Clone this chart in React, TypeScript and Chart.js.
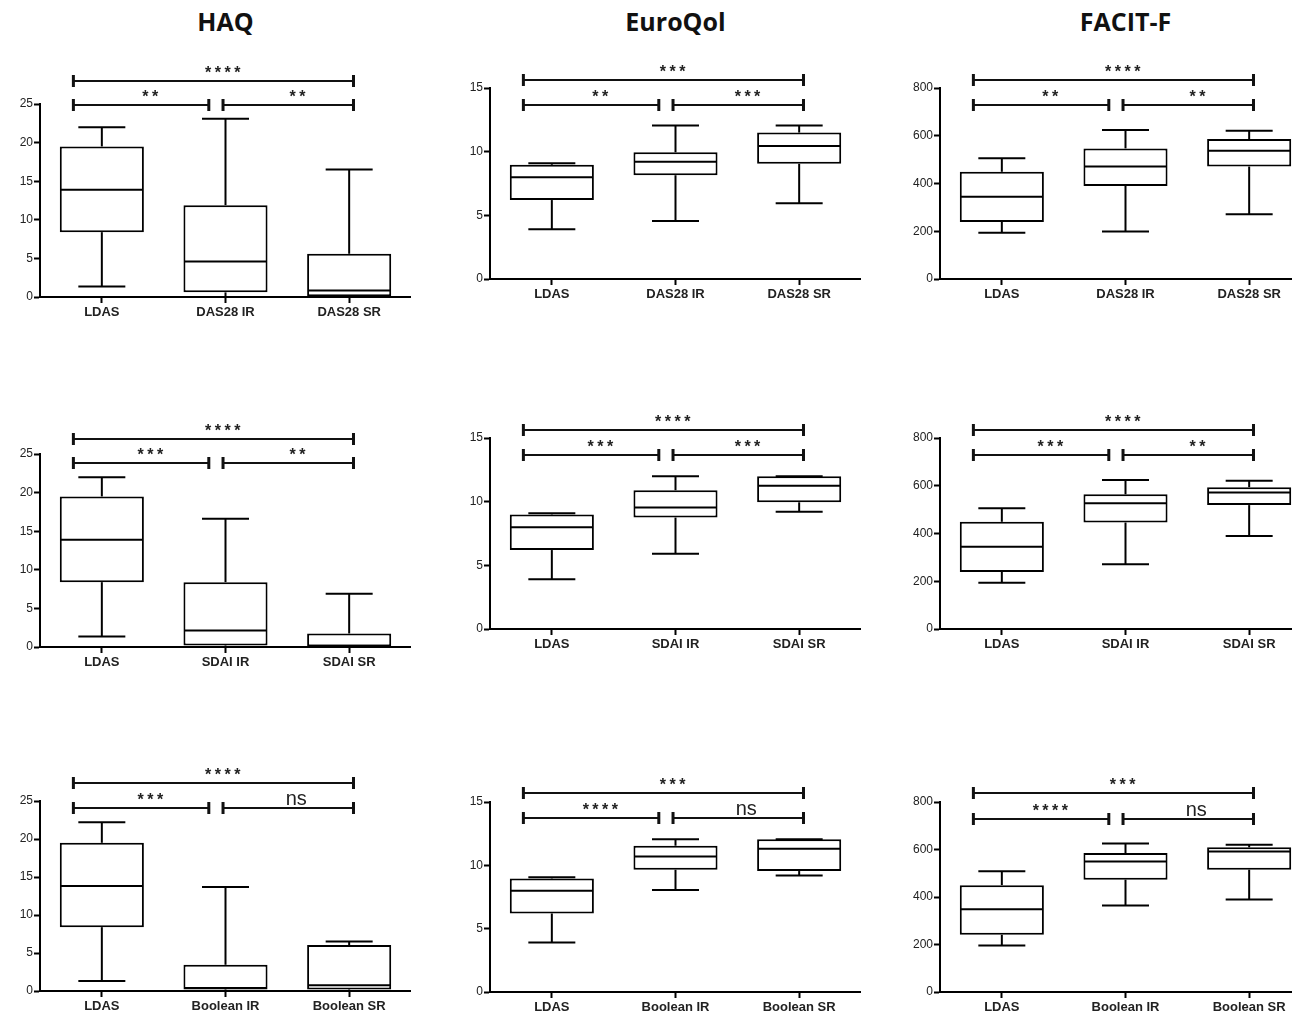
import React, { useEffect, useRef } from 'react';
import { Chart, registerables } from 'chart.js';

Chart.register(...registerables);

// ---------- data ----------
const titles = ['HAQ', 'EuroQol', 'FACIT-F'];

const das28Categories = ['LDAS', 'DAS28 IR', 'DAS28 SR'];
const sdaiCategories = ['LDAS', 'SDAI IR', 'SDAI SR'];
const booleanCategories = ['LDAS', 'Boolean IR', 'Boolean SR'];

// five-number summaries: [min, q1, median, q3, max]
const haqDas28 = [[1.35, 8.4, 13.9, 19.5, 22.0], [0, 0.6, 4.6, 11.9, 23.1], [0, 0.1, 0.85, 5.6, 16.5]];
const haqSdai = [[1.35, 8.4, 13.9, 19.5, 22.0], [0, 0.2, 2.15, 8.4, 16.6], [0, 0.05, 0.15, 1.75, 6.9]];
const haqBoolean = [[1.3, 8.4, 13.8, 19.5, 22.2], [0, 0.2, 0.4, 3.45, 13.7], [0, 0.2, 0.75, 6.05, 6.5]];

const eqDas28 = [[3.9, 6.2, 8.0, 8.97, 9.1], [4.55, 8.15, 9.2, 9.95, 12.05], [5.95, 9.05, 10.45, 11.5, 12.05]];
const eqSdai = [[3.9, 6.2, 8.0, 9.0, 9.1], [5.9, 8.75, 9.55, 10.9, 12.0], [9.2, 9.95, 11.25, 12.0, 12.0]];
const eqBoolean = [[3.9, 6.2, 8.0, 8.97, 9.05], [8.05, 9.65, 10.7, 11.55, 12.05], [9.2, 9.55, 11.3, 12.05, 12.05]];

const facitDas28 = [[194, 239, 345, 449, 506], [199, 390, 471, 547, 624], [271, 471, 537, 586, 621]];
const facitSdai = [[194, 239, 345, 449, 506], [271, 446, 527, 564, 624], [390, 519, 572, 594, 621]];
const facitBoolean = [[196, 241, 348, 450, 508], [364, 473, 550, 585, 625], [390, 515, 592, 609, 620]];

// significance labels: [LDAS vs IR, IR vs SR, LDAS vs SR]
const sigHaqDas28 = ['**', '**', '****'];
const sigEqDas28 = ['**', '***', '***'];
const sigFacitDas28 = ['**', '**', '****'];
const sigHaqSdai = ['***', '**', '****'];
const sigEqSdai = ['***', '***', '****'];
const sigFacitSdai = ['***', '**', '****'];
const sigHaqBoolean = ['***', 'ns', '****'];
const sigEqBoolean = ['****', 'ns', '***'];
const sigFacitBoolean = ['****', 'ns', '***'];

// bracket heights in data units: [pairwise level, overall level]
const bracketHaqDas28 = [24.87, 28.0];
const bracketHaqSdai = [23.8, 26.9];
const bracketHaqBoolean = [24.1, 27.4];
const bracketEq = [13.7, 15.6];
const bracketEqBoolean = [13.7, 15.7];
const bracketFacit = [730, 835];
const bracketFacitBoolean = [730, 838];

// y axes: [max, step]
const haqAxis = [25, 5];
const eqAxis = [15, 5];
const facitAxis = [800, 200];

// ---------- layout ----------
const AXIS_X = [40, 490, 940];
const PLOT_W = 371;
const Y_AXIS_W = 40;
const PAD_TOP = 60;
const X_AXIS_H = 30;
// [y of zero, y of top tick] per row, per column
const ROW_GEOM = [
  [[296.7, 104], [279, 88.3], [279, 88.3]],
  [[646.7, 454], [629.2, 438.3], [629, 438.3]],
  [[990.7, 800.7], [991.7, 801.7], [991.7, 801.7]],
];

type PanelDef = {
  cats: string[];
  stats: number[][];
  axis: number[];
  levels: number[];
  sig: string[];
};

const panels: PanelDef[][] = [
  [
    { cats: das28Categories, stats: haqDas28, axis: haqAxis, levels: bracketHaqDas28, sig: sigHaqDas28 },
    { cats: das28Categories, stats: eqDas28, axis: eqAxis, levels: bracketEq, sig: sigEqDas28 },
    { cats: das28Categories, stats: facitDas28, axis: facitAxis, levels: bracketFacit, sig: sigFacitDas28 },
  ],
  [
    { cats: sdaiCategories, stats: haqSdai, axis: haqAxis, levels: bracketHaqSdai, sig: sigHaqSdai },
    { cats: sdaiCategories, stats: eqSdai, axis: eqAxis, levels: bracketEq, sig: sigEqSdai },
    { cats: sdaiCategories, stats: facitSdai, axis: facitAxis, levels: bracketFacit, sig: sigFacitSdai },
  ],
  [
    { cats: booleanCategories, stats: haqBoolean, axis: haqAxis, levels: bracketHaqBoolean, sig: sigHaqBoolean },
    { cats: booleanCategories, stats: eqBoolean, axis: eqAxis, levels: bracketEqBoolean, sig: sigEqBoolean },
    { cats: booleanCategories, stats: facitBoolean, axis: facitAxis, levels: bracketFacitBoolean, sig: sigFacitBoolean },
  ],
];

function Panel({ def, left, top, width, height }: { def: PanelDef; left: number; top: number; width: number; height: number }) {
  const ref = useRef<HTMLCanvasElement>(null);
  useEffect(() => {
    const { cats, stats, axis, levels, sig } = def;

    const boxPlugin = {
      id: 'boxWhiskers',
      afterDatasetsDraw(chart: any) {
        const { ctx } = chart;
        const x = chart.scales.x;
        const y = chart.scales.y;
        const meta = chart.getDatasetMeta(0);
        const spacing = x.getPixelForValue(1) - x.getPixelForValue(0);
        const capHalf = spacing * 0.19;
        const line = (x1: number, y1: number, x2: number, y2: number) => {
          ctx.beginPath();
          ctx.moveTo(x1, y1);
          ctx.lineTo(x2, y2);
          ctx.stroke();
        };
        ctx.save();
        ctx.strokeStyle = '#000';
        ctx.lineWidth = 2;
        stats.forEach((s, i) => {
          const [mn, q1, md, q3, mx] = s;
          const el = meta.data[i];
          const cx = x.getPixelForValue(i);
          const half = el.width / 2;
          const yMin = y.getPixelForValue(mn);
          const yQ1 = y.getPixelForValue(q1);
          const yMd = y.getPixelForValue(md);
          const yQ3 = y.getPixelForValue(q3);
          const yMax = y.getPixelForValue(mx);
          if (yMax < yQ3) line(cx, yQ3, cx, yMax);
          line(cx - capHalf, yMax, cx + capHalf, yMax);
          if (yMin > yQ1) line(cx, yQ1, cx, yMin);
          line(cx - capHalf, yMin, cx + capHalf, yMin);
          line(cx - half + 1, yMd, cx + half - 1, yMd);
        });
        ctx.restore();
      },
    };

    const bracketPlugin = {
      id: 'sigBrackets',
      afterDraw(chart: any) {
        const { ctx } = chart;
        const x = chart.scales.x;
        const y = chart.scales.y;
        const cx = (i: number) => x.getPixelForValue(i);
        const spacing = cx(1) - cx(0);
        const pairs = [
          { a: cx(0) - 0.23 * spacing, b: cx(1) - 0.135 * spacing, lvl: levels[0], label: sig[0] },
          { a: cx(1) - 0.02 * spacing, b: cx(2) + 0.035 * spacing, lvl: levels[0], label: sig[1] },
          { a: cx(0) - 0.23 * spacing, b: cx(2) + 0.035 * spacing, lvl: levels[1], label: sig[2] },
        ];
        ctx.save();
        ctx.strokeStyle = '#111';
        ctx.fillStyle = '#222';
        ctx.lineWidth = 2;
        pairs.forEach((p) => {
          const yy = Math.round(y.getPixelForValue(p.lvl));
          ctx.beginPath();
          ctx.moveTo(p.a, yy);
          ctx.lineTo(p.b, yy);
          ctx.stroke();
          ctx.lineWidth = 3;
          ctx.beginPath();
          ctx.moveTo(p.a, yy - 6);
          ctx.lineTo(p.a, yy + 6);
          ctx.moveTo(p.b, yy - 6);
          ctx.lineTo(p.b, yy + 6);
          ctx.stroke();
          ctx.lineWidth = 2;
          const mid = (p.a + p.b) / 2 + 9;
          ctx.textAlign = 'center';
          ctx.textBaseline = 'alphabetic';
          if (p.label === 'ns') {
            ctx.font = '20px Arial, "Liberation Sans", sans-serif';
            (ctx as any).letterSpacing = '0px';
            ctx.fillText(p.label, mid - 1, yy - 3);
          } else {
            ctx.font = 'bold 16px Arial, "Liberation Sans", sans-serif';
            (ctx as any).letterSpacing = '3.5px';
            ctx.fillText(p.label, mid + 2, yy - 3);
          }
        });
        ctx.restore();
      },
    };

    const chart = new Chart(ref.current!, {
      type: 'bar',
      data: {
        labels: cats,
        datasets: [
          {
            data: stats.map((s) => [s[1], s[3]]) as any,
            backgroundColor: '#ffffff',
            borderColor: '#000000',
            borderWidth: 2,
            borderSkipped: false,
            barPercentage: 0.68,
            categoryPercentage: 1,
          },
        ],
      },
      options: {
        responsive: false,
        animation: false,
        devicePixelRatio: 1,
        layout: { padding: { top: PAD_TOP, left: 0, right: 0, bottom: 0 } },
        plugins: { legend: { display: false }, tooltip: { enabled: false }, title: { display: false } },
        scales: {
          x: {
            offset: true,
            afterFit: (s: any) => {
              s.height = X_AXIS_H;
            },
            grid: {
              offset: false,
              drawOnChartArea: false,
              drawTicks: true,
              tickLength: 6,
              tickWidth: 2,
              tickColor: '#000',
            },
            border: { display: true, color: '#000', width: 2 },
            ticks: {
              color: '#222',
              padding: 2,
              maxRotation: 0,
              autoSkip: false,
              font: { family: 'Arial, "Liberation Sans", sans-serif', size: 13, weight: 'bold' },
            },
          },
          y: {
            min: 0,
            max: axis[0],
            afterFit: (s: any) => {
              s.width = Y_AXIS_W;
            },
            grid: {
              drawOnChartArea: false,
              drawTicks: true,
              tickLength: 6,
              tickWidth: 2,
              tickColor: '#000',
            },
            border: { display: true, color: '#000', width: 2 },
            ticks: {
              stepSize: axis[1],
              color: '#222',
              padding: 1,
              font: { family: 'Arial, "Liberation Sans", sans-serif', size: 12 },
            },
          },
        },
      },
      plugins: [boxPlugin, bracketPlugin],
    } as any);
    return () => chart.destroy();
  }, [def]);
  return (
    <canvas
      ref={ref}
      width={width}
      height={height}
      style={{ position: 'absolute', left, top, width, height, display: 'block' }}
    />
  );
}

export default function App() {
  const items: React.ReactNode[] = [];
  panels.forEach((row, r) => {
    row.forEach((def, c) => {
      const [y0, yTop] = ROW_GEOM[r][c];
      const plotH = Math.round(y0) - Math.round(yTop);
      const top = Math.round(yTop) - PAD_TOP;
      const left = AXIS_X[c] - Y_AXIS_W;
      items.push(
        <Panel
          key={`${r}-${c}`}
          def={def}
          left={left}
          top={top}
          width={Y_AXIS_W + PLOT_W}
          height={PAD_TOP + plotH + X_AXIS_H}
        />
      );
    });
  });
  return (
    <div
      style={{
        position: 'absolute',
        left: 0,
        top: 0,
        width: 1292,
        height: 1018,
        overflow: 'hidden',
        background: '#fff',
      }}
    >
      {titles.map((t, c) => (
        <div
          key={t}
          style={{
            position: 'absolute',
            left: AXIS_X[c] + PLOT_W / 2 - 150,
            top: 4,
            width: 300,
            textAlign: 'center',
            fontFamily: '"Open Sans", sans-serif',
            fontWeight: 700,
            fontSize: 25,
            lineHeight: 'normal',
            color: '#111',
          }}
        >
          {t}
        </div>
      ))}
      {items}
    </div>
  );
}
